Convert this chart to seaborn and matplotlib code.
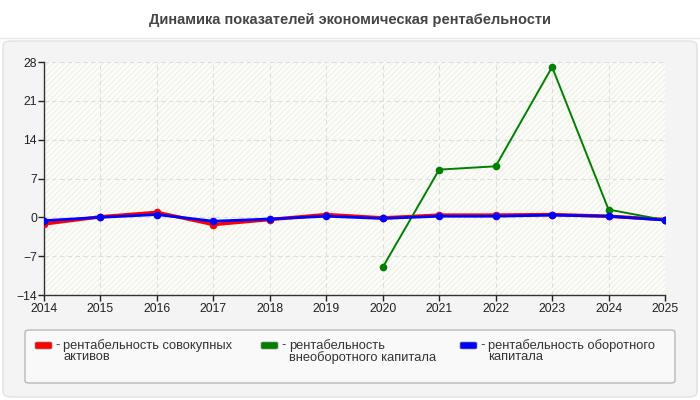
import numpy as np
import pandas as pd
import seaborn as sns
import matplotlib.pyplot as plt
from matplotlib.patches import FancyBboxPatch, Rectangle
from matplotlib.lines import Line2D

# data
years = [2014, 2015, 2016, 2017, 2018, 2019, 2020, 2021, 2022, 2023, 2024, 2025]
total_assets = [-1.2, 0.1, 0.9, -1.3, -0.4, 0.5, -0.1, 0.4, 0.4, 0.5, 0.2, -0.4]
noncurrent = [np.nan, np.nan, np.nan, np.nan, np.nan, np.nan, -9.0, 8.6, 9.2, 27.1, 1.4, -0.5]
current = [-0.6, 0.0, 0.5, -0.7, -0.3, 0.2, -0.2, 0.2, 0.2, 0.4, 0.2, -0.5]

labels = ["рентабельность совокупных\nактивов",
          "рентабельность\nвнеоборотного капитала",
          "рентабельность оборотного\nкапитала"]
colors = ["#ff0000", "#008000", "#0000ff"]
widths = [2.5, 1.4, 2.0]
yticks = [-14, -7, 0, 7, 14, 21, 28]

sns.set_theme(style="white")
plt.rcParams['font.family'] = ['Liberation Sans', 'DejaVu Sans']

fig = plt.figure(figsize=(7, 4), dpi=100)
fig.patch.set_facecolor("white")

# grey panel behind the chart
panel = FancyBboxPatch((3 / 700, 3 / 400), 694 / 700, 356 / 400,
                       boxstyle="round,pad=0,rounding_size=0.012",
                       transform=fig.transFigure, facecolor="#f4f4f4",
                       edgecolor="#e2e2e2", linewidth=1, zorder=-2)
fig.patches.append(panel)
fig.add_artist(Line2D([0, 1], [1 - 38 / 400] * 2, transform=fig.transFigure,
                      color="#e6e6e6", lw=1, zorder=-1))

fig.text(0.5, 1 - 20 / 400, "Динамика показателей экономическая рентабельности",
         ha="center", va="center", fontsize=10.5, fontweight="bold", color="#454545")

ax = fig.add_axes([44 / 700, 1 - 295 / 400, 621 / 700, 233 / 400])
ax.set_facecolor("#fefef9")
ax.add_patch(Rectangle((0, 0), 1, 1, transform=ax.transAxes, facecolor="none",
                       edgecolor="#f0f0ec", hatch="//////", lw=0, zorder=0))

df = pd.DataFrame({"year": years, "a": total_assets, "b": noncurrent, "c": current})
for col, c, w in zip(["a", "b", "c"], colors, widths):
    sns.lineplot(data=df.dropna(subset=[col]), x="year", y=col, ax=ax, color=c,
                 linewidth=w, marker="o", markersize=5.5, markeredgewidth=0, zorder=3)

ax.set_xlim(2014, 2025)
ax.set_ylim(-14, 28)
ax.set_xticks(years)
ax.set_yticks(yticks)
ax.set_xlabel("")
ax.set_ylabel("")
ax.grid(True, color="#dddddd", linestyle=(0, (4, 3)), linewidth=0.8)
for s in ["top", "right"]:
    ax.spines[s].set_visible(False)
for s in ["left", "bottom"]:
    ax.spines[s].set_color("#333333")
    ax.spines[s].set_linewidth(1)
ax.tick_params(axis="both", labelsize=8.8, colors="#222222", length=4, width=1,
               direction="out", pad=2, bottom=True, left=True)
ax.tick_params(axis="y", pad=1)

# legend box
lbox = FancyBboxPatch((25 / 700, 1 - 383 / 400), 650 / 700, 53 / 400,
                      boxstyle="round,pad=0,rounding_size=0.006",
                      transform=fig.transFigure, facecolor="#f9f9f9",
                      edgecolor="#b8b8b8", linewidth=1, zorder=-1)
fig.patches.append(lbox)
for x0, lab, c in zip([35, 261, 460], labels, colors):
    fig.patches.append(FancyBboxPatch((x0 / 700, 1 - 349 / 400), 17 / 700, 7 / 400,
                                      boxstyle="round,pad=0,rounding_size=0.003",
                                      transform=fig.transFigure, facecolor=c,
                                      edgecolor="#888888", linewidth=0.5))
    fig.text((x0 + 21) / 700, 1 - 339 / 400, "- ", ha="left", va="top",
             fontsize=9.3, color="#333333")
    fig.text((x0 + 28) / 700, 1 - 339 / 400, lab, ha="left", va="top",
             fontsize=9.3, color="#333333", linespacing=0.95)

fig.savefig("out.png", dpi=100)
